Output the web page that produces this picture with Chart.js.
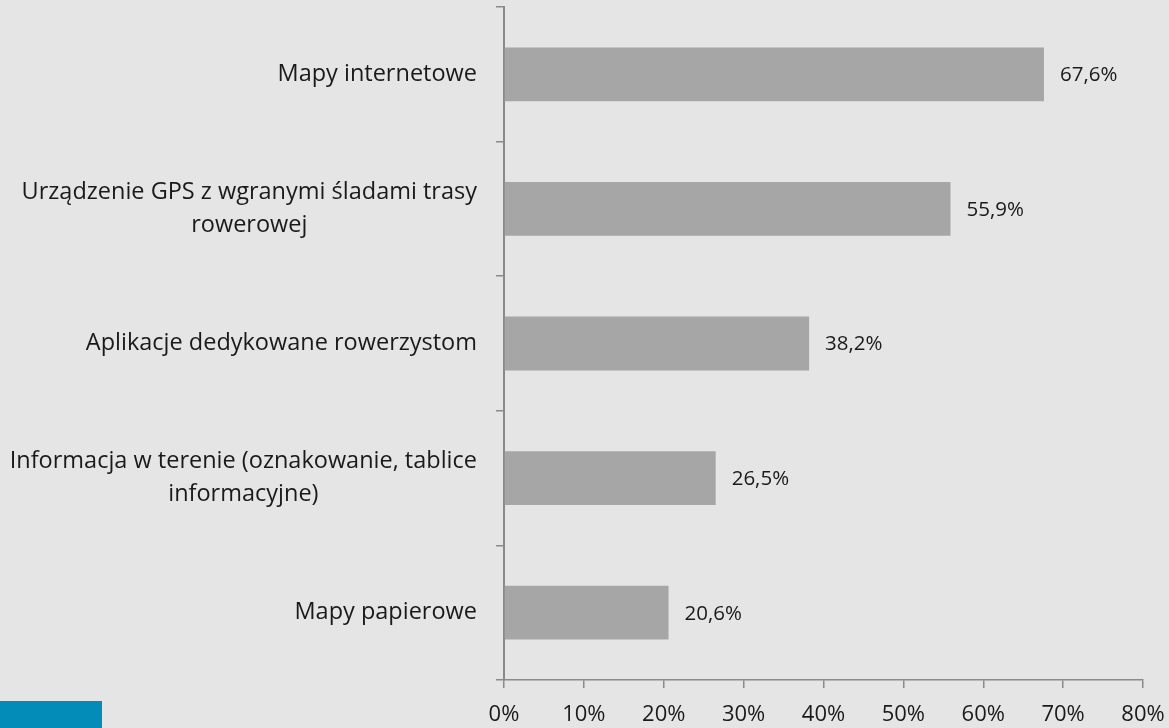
<!DOCTYPE html>
<html>
<head>
<meta charset="utf-8">
<script src="https://cdn.jsdelivr.net/npm/chart.js@4"></script>
<style>
  html, body { margin:0; padding:0; background:#e5e5e5; }
  #wrap { position:relative; width:1169px; height:728px; background:#e5e5e5; overflow:hidden; }
  #blue { position:absolute; left:0; top:701px; width:102px; height:27px; background:#028cb7; }
</style>
</head>
<body>
<div id="wrap">
  <canvas id="c" width="1169" height="728"></canvas>
  <div id="blue"></div>
</div>
<script>
const categories = [
  ["Mapy internetowe"],
  ["Urządzenie GPS z wgranymi śladami trasy", "rowerowej"],
  ["Aplikacje dedykowane rowerzystom"],
  ["Informacja w terenie (oznakowanie, tablice", "informacyjne)"],
  ["Mapy papierowe"]
];
const values = [67.6, 55.9, 38.2, 26.5, 20.6];
const xTicks = [0, 10, 20, 30, 40, 50, 60, 70, 80];

const FONT = "'Open Sans', Lato, sans-serif";
const TEXT = '#1a1a1a';
const AXIS = '#8a8a8a';

const valueLabels = {
  id: 'valueLabels',
  afterDatasetsDraw(chart) {
    const ctx = chart.ctx;
    const meta = chart.getDatasetMeta(0);
    ctx.save();
    ctx.font = "20.5px " + FONT;
    ctx.fillStyle = TEXT;
    ctx.textAlign = 'left';
    ctx.textBaseline = 'middle';
    meta.data.forEach((bar, i) => {
      const txt = values[i].toFixed(1).replace('.', ',') + '%';
      ctx.fillText(txt, bar.x + 16, bar.y + 1);
    });
    ctx.restore();
  }
};

const catLabels = {
  id: 'catLabels',
  afterDraw(chart) {
    const ctx = chart.ctx;
    const y = chart.scales.y;
    ctx.save();
    ctx.font = "23.5px " + FONT;
    ctx.fillStyle = TEXT;
    ctx.textAlign = 'center';
    ctx.textBaseline = 'middle';
    const rightEdge = 477;
    const lh = 33;
    categories.forEach((lines, i) => {
      const cy = y.getPixelForValue(i);
      const maxW = Math.max(...lines.map(l => ctx.measureText(l).width));
      const cx = rightEdge - maxW / 2;
      lines.forEach((l, j) => {
        ctx.fillText(l, cx, cy + (j - (lines.length - 1) / 2) * lh);
      });
    });
    ctx.restore();
  }
};

new Chart(document.getElementById('c'), {
  type: 'bar',
  data: {
    labels: categories.map(c => c.join(' ')),
    datasets: [{
      data: values,
      backgroundColor: '#a6a6a6',
      borderWidth: 0,
      barPercentage: 0.4,
      categoryPercentage: 1.0
    }]
  },
  options: {
    indexAxis: 'y',
    responsive: false,
    animation: false,
    layout: { padding: { top: 7, right: 26, left: 0, bottom: 0 } },
    plugins: { legend: { display: false }, tooltip: { enabled: false } },
    scales: {
      x: {
        type: 'linear',
        min: 0, max: 80,
        afterBuildTicks(scale) { scale.ticks = xTicks.map(v => ({ value: v })); },
        ticks: {
          callback: v => v + '%',
          font: { family: FONT, size: 22 },
          color: TEXT,
          padding: 14,
          maxRotation: 0
        },
        grid: { drawOnChartArea: false, drawTicks: true, tickLength: 8, color: AXIS, lineWidth: 1.5 },
        border: { display: true, color: AXIS, width: 1.5 },
        afterFit(scale) { scale.height = 48; scale.paddingLeft = 0; scale.paddingRight = 0; }
      },
      y: {
        type: 'category',
        offset: true,
        ticks: { display: false },
        grid: { offset: true, drawOnChartArea: false, drawTicks: true, tickLength: 8, color: AXIS, lineWidth: 1.5 },
        border: { display: true, color: AXIS, width: 2 },
        afterFit(scale) { scale.width = 504; scale.paddingTop = 0; scale.paddingBottom = 0; }
      }
    }
  },
  plugins: [valueLabels, catLabels]
});
</script>
</body>
</html>
